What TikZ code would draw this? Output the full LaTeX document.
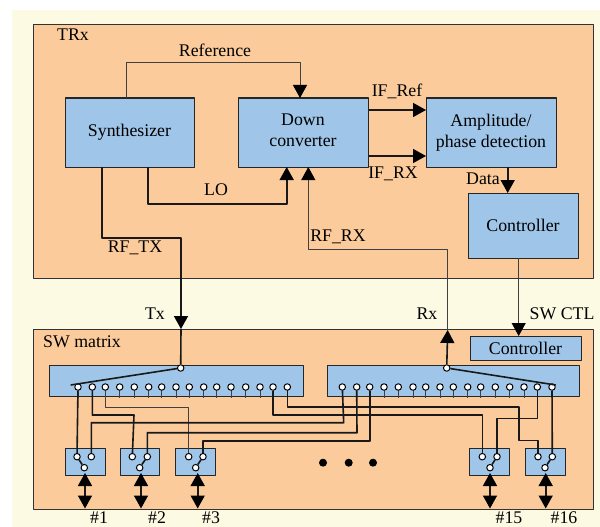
\documentclass[tikz,border=0pt]{standalone}
\usepackage{fontspec}
\setmainfont{Liberation Serif}
\usetikzlibrary{arrows.meta}
\definecolor{cream}{HTML}{FDFAE3}
\definecolor{peach}{HTML}{FBCB9B}
\definecolor{steel}{HTML}{9FC5E8}
\tikzset{
panel/.style={draw=black!80,fill=peach,line width=1pt,anchor=north west,inner sep=0pt},
block/.style={draw=black!85,fill=steel,line width=1pt,inner sep=0pt,align=center},
term/.style={circle,draw=black,fill=white,line width=1pt,inner sep=0pt,minimum size=6.5pt},
wire/.style={line width=1.6pt,black!90},
thin wire/.style={line width=1pt,black!75},
txt/.style={inner sep=0pt}
}
\begin{document}
\begin{tikzpicture}[x=1pt,y=-1pt,font=\fontsize{17.8}{20.5}\selectfont,line join=round,>={Triangle[length=13pt,width=14pt,color=black,fill=black]}]
\useasboundingbox (0,0) rectangle (600,527);
\fill[cream] (12,10) rectangle (600,527);
% panels
\foreach \x/\y/\w/\h/\t in {33/24/560/254/TRx,33/329/560/180/SWM}
\node[panel,minimum width=\w pt,minimum height=\h pt] (\t) at (\x,\y) {};
\node[txt] (TRxLabel) at (73,35) {TRx};
\node[txt] (SWMLabel) at (82,342) {SW matrix};
% blocks
\node[block,minimum width=129pt,minimum height=69pt] (Synth) at (129.5,132.5) {Synthesizer};
\node[block,minimum width=130pt,minimum height=69pt,text depth=5pt] (Down) at (303,132.5) {Down\\converter};
\node[block,minimum width=130pt,minimum height=69pt] (Amp) at (491,132.5) {Amplitude/\\phase detection};
\node[block,minimum width=110pt,minimum height=65pt] (Ctl) at (523,225.5) {Controller};
\node[block,minimum width=111pt,minimum height=24pt] (SwCtl) at (525.5,348) {Controller};
\node[block,minimum width=254pt,minimum height=31pt] (BarL) at (176,380.5) {};
\node[block,minimum width=252pt,minimum height=31pt] (BarR) at (453,380.5) {};
\foreach \x/\w/\t in {85/40/A,139.5/39/B,195/40/C,489/40/D,545/40/E}
\node[block,minimum width=\w pt,minimum height=27pt] (Sw\t) at (\x,461.5) {};
% points on the block borders
\foreach \x/\y/\t in {126.7/98/RefA,300/98/RefB,148/167/LoA,286.7/167/LoB,308.3/167/RxB,101.7/167/TxA,
369/110/IfA,426/110/IfB,369/156/IfC,426/156/IfD,507.7/167/DataA,507.7/193/DataB,518.7/258/CtlA,518.7/336/CtlB,
181/329/TxTip,447.7/330/RxTip}
\coordinate (\t) at (\x,\y);
% wires in the TRx
\draw[thin wire,->] (RefA)--(126.7,62.7)--(300,62.7)--(RefB);
\draw[wire,->] (LoA)--(148,203.7)--(286.7,203.7)--(LoB);
\draw[wire,->] (IfA)--(IfB);
\draw[wire,->] (IfC)--(IfD);
\draw[wire,->] (DataA)--(DataB);
\draw[thin wire,->] (CtlA)--(CtlB);
% bar terminals
\foreach \n/\x in {1/78,2/92.3,3/105.3,4/119.7,5/134.3,6/148.7,7/161.7,8/176,9/189.3,10/203.7,11/216.7,12/231,13/245.7,14/260,15/273,16/287.3}
{\draw[thin wire] (\x,387)--(\x,398);
\node[term] (L\n) at (\x,387) {};}
\foreach \n/\x in {1/342.3,2/356.7,3/369.7,4/384,5/398.3,6/413,7/425.7,8/440,9/453.3,10/467.7,11/480.7,12/495.3,13/509.7,14/524,15/537.3,16/552}
{\draw[thin wire] (\x,387)--(\x,398);
\node[term] (R\n) at (\x,387) {};}
\node[term] (LTop) at (180.7,368) {};
\node[term] (RTop) at (446.7,368) {};
\coordinate (LEnd) at (70.7,385);
\coordinate (REnd) at (555.7,385);
\draw[wire] (LTop)--(LEnd);
\draw[wire] (RTop)--(REnd);
% switches
\foreach \t/\a/\b/\c/\s in {A/77/91.3/84.3/a,B/132.3/147.3/139.7/b,C/188.7/203/195.7/b,D/482.3/497/490/b,E/538/552.3/545/b}
{\node[term] (\t a) at (\a,456.7) {};
\node[term] (\t b) at (\b,456.7) {};
\node[term] (\t c) at (\c,467.7) {};
\draw[wire] (\t c)--(\t\s);}
% wires between bars and switches
\draw[wire] (L1)--(Aa);
\draw[wire] (L2)--(92.3,415)--(134,415)--(Ba);
\draw[thin wire] (L3)--(105.3,407)--(188.7,407)--(Ca);
\draw[wire] (Ab)--(91.3,422.7)--(343.7,422.7)--(R1);
\draw[wire] (Bb)--(147.3,432.7)--(357,432.7)--(R2);
\draw[wire] (Cb)--(203,441)--(369.7,441)--(R3);
\draw[wire] (L15)--(273,415)--(482.3,415)--(Da);
\draw[wire] (L16)--(287.3,406.7)--(518.7,406.7)--(518.7,440.3)--(538,440.3)--(Ea);
\draw[wire] (R15)--(537.3,418.3)--(497,418.3)--(Db);
\draw[wire] (R16)--(Eb);
% Tx and Rx paths
\draw[wire,->] (TxA)--(101.7,237.7)--(181,237.7)--(TxTip);
\draw[wire] (TxTip)--(LTop);
\draw[wire,->] (RTop)--(RxTip);
\draw[thin wire,->] (RxTip)--(447.7,249)--(308.3,249)--(RxB);
% ports
\foreach \t/\x/\l/\lx in {A/85/1/99,B/141/2/157,C/197.7/3/211,D/490/15/509,E/545.7/16/564}
{\coordinate (\t top) at (\x,473);
\coordinate (\t bot) at (\x,508.5);
\draw[wire,<->] (\t top)--(\t bot);
\node[txt] (P\t) at (\lx,517.5) {\#\l};}
% dots
\foreach \n/\x in {1/323,2/348.7,3/373}
\fill (\x,462.7) circle(4pt);
% labels
\foreach \x/\y/\n/\t in {215/50/Lref/Reference,216/190/Llo/LO,135/248/Ltx/RF\_TX,155/314/Ltxp/Tx,427/314/Lrxp/Rx,562/314/Lsw/SW CTL,338/237/Lrx/RF\_RX,397/91/Lifr/IF\_Ref,393/174/Lifx/IF\_RX,483/179/Ldata/Data}
\node[txt] (\n) at (\x,\y) {\t};
\end{tikzpicture}
\end{document}
